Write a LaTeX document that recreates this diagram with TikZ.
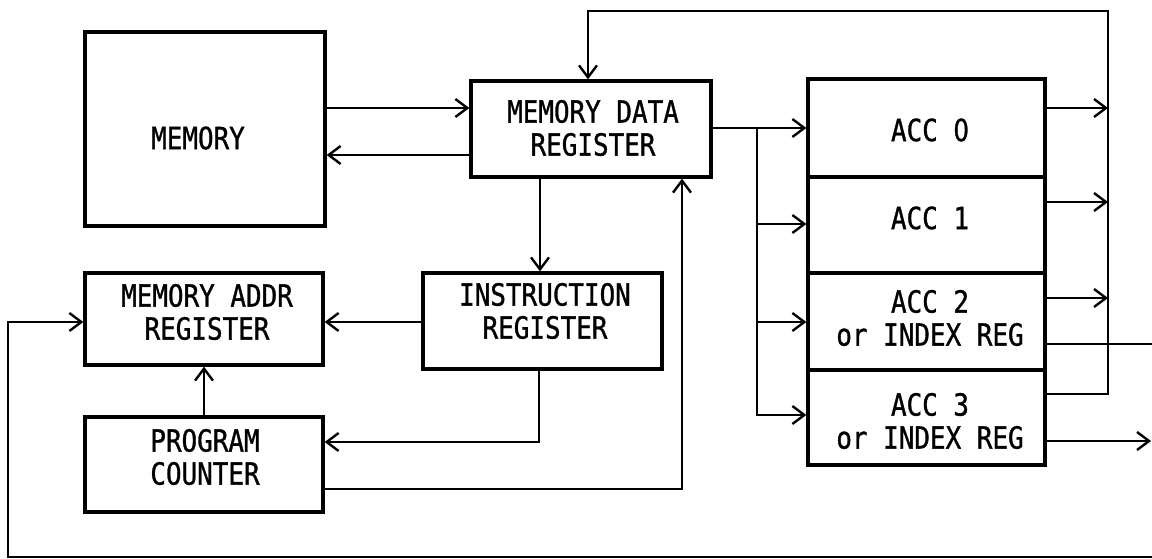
\documentclass[tikz,border=0pt]{standalone}
\usepackage{fontspec}
\setmonofont[FakeStretch=0.85,FakeBold=1]{DejaVu Sans Mono}
\newfontfamily\plainzero[FakeStretch=0.8,FakeBold=1]{DejaVu Sans}
\usetikzlibrary{arrows.meta}
\begin{document}
\begin{tikzpicture}[x=1pt,y=-1pt,
  box/.style={draw, rectangle, inner sep=0pt, line width=3.2pt},
  lbl/.style={font=\ttfamily\fontsize{30.5}{33}\selectfont, align=center, inner sep=0pt},
  wire/.style={line width=2.9pt},
  arr/.style={wire, -{Straight Barb[length=12pt,width=18pt,line width=2.4pt]}}]
\useasboundingbox (0,0) rectangle (1152,559);
% boxes
\node[box, minimum width=240pt, minimum height=194pt] (mem) at (205,129) {};
\node[box, minimum width=240pt, minimum height=96pt] (mdr) at (591,129) {};
\node[box, minimum width=238pt, minimum height=92pt] (mar) at (204,319) {};
\node[box, minimum width=239pt, minimum height=96pt] (ir) at (542.5,321) {};
\node[box, minimum width=238pt, minimum height=95pt] (pc) at (204,464.5) {};
\node[box, minimum width=237pt, minimum height=98pt] (acc0) at (926.5,128) {};
\node[box, minimum width=237pt, minimum height=96pt] (acc1) at (926.5,225) {};
\node[box, minimum width=237pt, minimum height=97pt] (acc2) at (926.5,321.5) {};
\node[box, minimum width=237pt, minimum height=95pt] (acc3) at (926.5,417.5) {};
% texts
\node[lbl] (tmem) at (198,138) {MEMORY};
\node[lbl] (tmdr) at (593,128) {MEMORY DATA\\REGISTER};
\node[lbl] (tmar) at (207,312) {MEMORY ADDR\\REGISTER};
\node[lbl] (tir) at (545,311) {INSTRUCTION\\REGISTER};
\node[lbl] (tpc) at (205,457) {PROGRAM\\COUNTER};
\node[lbl] (tacc0) at (930,130) {ACC {\plainzero 0}};
\node[lbl] (tacc1) at (930,218) {ACC 1};
\node[lbl] (tacc2) at (930,318) {ACC 2\\or INDEX REG};
\node[lbl] (tacc3) at (930,421) {ACC 3\\or INDEX REG};
% coordinates
\coordinate (br) at (757,128);
\coordinate (bus) at (1108,11);
\coordinate (outA) at (1152,344);
\coordinate (outB) at (1151,441);
\coordinate (loopR) at (1152,557);
\coordinate (loopL) at (8,557);
% connectors
\draw[arr] (mem.east |- 0,108) -- (mdr.west |- 0,108);
\draw[arr] (mdr.west |- 0,155) -- (mem.east |- 0,155);
\draw[arr] (mdr.south -| 540,0) -- (ir.north -| 540,0);
\draw[arr] (ir.west |- 0,322) -- (mar.east |- 0,322);
\draw[arr] (ir.south -| 539,0) |- (pc.east |- 0,442);
\draw[arr] (pc.north) -- (mar.south);
\draw[arr] (pc.east |- 0,489) -| (mdr.south -| 682,0);
\draw[arr] (mdr.east |- br) -- (acc0.west |- br);
\draw[arr] (br) |- (acc3.west |- 0,415);
\draw[arr] (br |- 0,224) -- (acc1.west |- 0,224);
\draw[arr] (br |- 0,322) -- (acc2.west |- 0,322);
\draw[arr] (acc0.east |- 0,108) -- (bus |- 0,108);
\draw[arr] (acc1.east |- 0,202) -- (bus |- 0,202);
\draw[arr] (acc2.east |- 0,298) -- (bus |- 0,298);
\draw[arr] (acc3.east |- 0,394) -| (bus) -| (mdr.north -| 588,0);
\draw[wire] (acc2.east |- outA) -- (outA);
\draw[arr] (acc3.east |- outB) -- (outB);
\draw[arr] (loopR) -- (loopL) |- (mar.west |- 0,322);
\end{tikzpicture}
\end{document}
